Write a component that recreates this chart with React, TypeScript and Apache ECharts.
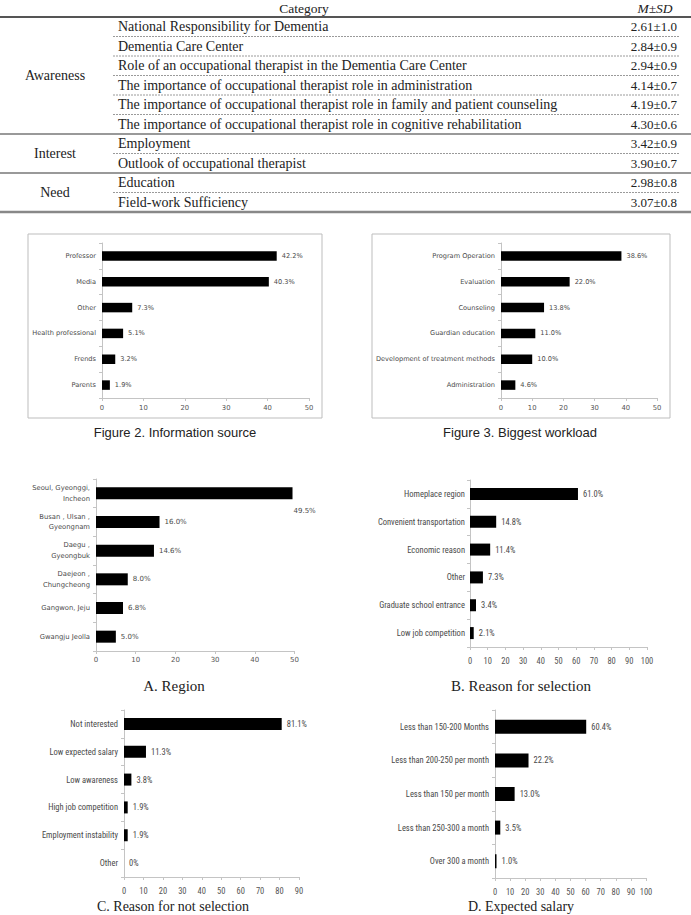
import React, { useEffect, useRef } from 'react';
import * as echarts from 'echarts';

// ---------- Table data ----------
const tableHeaderCategory = 'Category';
const tableHeaderValue = 'M±SD';
const tableGroups = ['Awareness', 'Interest', 'Need'];
const tableGroupSizes = [6, 2, 2];
const tableItems = [
  'National Responsibility for Dementia',
  'Dementia Care Center',
  'Role of an occupational therapist in the Dementia Care Center',
  'The importance of occupational therapist role in administration',
  'The importance of occupational therapist role in family and patient counseling',
  'The importance of occupational therapist role in cognitive rehabilitation',
  'Employment',
  'Outlook of occupational therapist',
  'Education',
  'Field-work Sufficiency',
];
const tableValues = [
  '2.61±1.0', '2.84±0.9', '2.94±0.9', '4.14±0.7', '4.19±0.7', '4.30±0.6',
  '3.42±0.9', '3.90±0.7', '2.98±0.8', '3.07±0.8',
];

// ---------- Chart data ----------
const fig2Categories = ['Professor', 'Media', 'Other', 'Health professional', 'Frends', 'Parents'];
const fig2Values = [42.2, 40.3, 7.3, 5.1, 3.2, 1.9];

const fig3Categories = ['Program Operation', 'Evaluation', 'Counseling', 'Guardian education', 'Development of treatment methods', 'Administration'];
const fig3Values = [38.6, 22.0, 13.8, 11.0, 10.0, 4.6];

const regionCategories = ['Seoul, Gyeonggi,\nIncheon', 'Busan , Ulsan ,\nGyeongnam', 'Daegu ,\nGyeongbuk', 'Daejeon ,\nChungcheong', 'Gangwon, Jeju', 'Gwangju Jeolla'];
const regionValues = [49.5, 16.0, 14.6, 8.0, 6.8, 5.0];

const selectionCategories = ['Homeplace region', 'Convenient transportation', 'Economic reason', 'Other', 'Graduate school entrance', 'Low job competition'];
const selectionValues = [61.0, 14.8, 11.4, 7.3, 3.4, 2.1];

const notSelectionCategories = ['Not interested', 'Low expected salary', 'Low awareness', 'High job competition', 'Employment instability', 'Other'];
const notSelectionValues = [81.1, 11.3, 3.8, 1.9, 1.9, 0];

const salaryCategories = ['Less than 150-200 Months', 'Less than 200-250 per month', 'Less than 150 per month', 'Less than 250-300 a month', 'Over 300 a month'];
const salaryValues = [60.4, 22.2, 13.0, 3.5, 1.0];

const axisMaxima = [50, 50, 50, 100, 90, 100];

const captions = [
  'Figure 2. Information source',
  'Figure 3. Biggest workload',
  'A. Region',
  'B. Reason for selection',
  'C. Reason for not selection',
  'D. Expected salary',
];

// ---------- Layout (positions / styles only) ----------
const SMALL_FONT = 'DejaVu Sans';
const NARROW_FONT = '"Liberation Sans Narrow", "Roboto Condensed", "Liberation Sans", sans-serif';
const SERIF = '"Liberation Serif", "DejaVu Serif", serif';

const panels = [
  { cats: fig2Categories, vals: fig2Values, left: 102, top: 243, width: 207, height: 155, barWidth: 9.5, font: SMALL_FONT, fs: 6.6, valFs: 6.6, axFs: 6.8, capX: 175, capY: 432, capFont: '"Liberation Sans", Arial, sans-serif', capFs: 13, lblMargin: 6, axMargin: 6, box: [28, 234, 294, 184] },
  { cats: fig3Categories, vals: fig3Values, left: 501, top: 243, width: 156, height: 155, barWidth: 9.5, font: SMALL_FONT, fs: 6.6, valFs: 6.6, axFs: 6.8, capX: 520, capY: 432, capFont: '"Liberation Sans", Arial, sans-serif', capFs: 13, lblMargin: 6, axMargin: 6, box: [372, 234, 298, 184] },
  { cats: regionCategories, vals: regionValues, left: 96, top: 479, width: 198.5, height: 172, barWidth: 12, font: SMALL_FONT, fs: 6.8, valFs: 7, axFs: 7, capX: 174, capY: 686, capFont: SERIF, capFs: 15, lblMargin: 6, axMargin: 5, firstOffset: [-4, 18] },
  { cats: selectionCategories, vals: selectionValues, left: 470, top: 480, width: 177, height: 167, barWidth: 12, font: NARROW_FONT, fs: 8.5, valFs: 8.5, axFs: 8.5, capX: 521, capY: 686, capFont: SERIF, capFs: 15, lblMargin: 5, axMargin: 9 },
  { cats: notSelectionCategories, vals: notSelectionValues, left: 124, top: 710, width: 175, height: 167, barWidth: 12, font: NARROW_FONT, fs: 8.5, valFs: 8.5, axFs: 8.5, capX: 173, capY: 906, capFont: SERIF, capFs: 14, lblMargin: 6, axMargin: 9 },
  { cats: salaryCategories, vals: salaryValues, left: 495, top: 710, width: 151, height: 168, barWidth: 14, font: NARROW_FONT, fs: 8.5, valFs: 8.5, axFs: 8.5, capX: 521, capY: 906, capFont: SERIF, capFs: 14, lblMargin: 6, axMargin: 9 },
];

const TABLE_TOP = 17;
const ROW_H = 19.5;

function buildTableGraphics(): any[] {
  const g: any[] = [];
  const txt = (x: number, y: number, text: string, align: string, extra: any = {}) => ({
    type: 'text', x, y, silent: true,
    style: { text, fill: '#222', fontFamily: SERIF, fontSize: 14, align, verticalAlign: 'middle', ...extra },
  });
  g.push(txt(304, 8, tableHeaderCategory, 'center', { fontSize: 13.5 }));
  g.push(txt(655, 8, tableHeaderValue, 'center', { fontStyle: 'italic', fontSize: 13.5 }));
  g.push({ type: 'line', shape: { x1: 0, y1: TABLE_TOP, x2: 691, y2: TABLE_TOP }, style: { stroke: '#555', lineWidth: 2 } });
  const total = tableItems.length;
  for (let k = 1; k < total; k++) {
    const y = TABLE_TOP + ROW_H * k;
    let boundary = false;
    let acc = 0;
    for (const s of tableGroupSizes) { acc += s; if (acc === k) boundary = true; }
    if (boundary) {
      g.push({ type: 'line', shape: { x1: 0, y1: y, x2: 691, y2: y }, style: { stroke: '#777', lineWidth: 1.5 } });
    } else {
      g.push({ type: 'line', shape: { x1: 113, y1: y, x2: 680, y2: y }, style: { stroke: '#9a9a9a', lineWidth: 1, lineDash: [2, 1] } });
    }
  }
  const bottom = TABLE_TOP + ROW_H * total;
  g.push({ type: 'line', shape: { x1: 0, y1: bottom, x2: 691, y2: bottom }, style: { stroke: '#888', lineWidth: 2.5 } });
  tableItems.forEach((item, k) => {
    const y = TABLE_TOP + ROW_H * (k + 0.5);
    g.push(txt(118, y, item, 'left'));
    g.push(txt(677, y, tableValues[k], 'right', { fontSize: 13 }));
  });
  let start = 0;
  tableGroups.forEach((grp, i) => {
    const n = tableGroupSizes[i];
    const y = TABLE_TOP + ROW_H * (start + n / 2);
    g.push(txt(55, y, grp, 'center'));
    start += n;
  });
  return g;
}

export default function App() {
  const ref = useRef<HTMLDivElement>(null);
  useEffect(() => {
    if (!ref.current) return;
    const chart = echarts.init(ref.current, undefined, { renderer: 'svg' });
    const axisColor = '#c4c4c4';
    const grid: any[] = [];
    const xAxis: any[] = [];
    const yAxis: any[] = [];
    const series: any[] = [];
    const graphic: any[] = buildTableGraphics();

    panels.forEach((p, i) => {
      grid.push({ left: p.left, top: p.top, width: p.width, height: p.height, containLabel: false });
      xAxis.push({
        type: 'value', gridIndex: i, min: 0, max: axisMaxima[i], interval: 10,
        splitLine: { show: false },
        axisLine: { show: true, lineStyle: { color: axisColor } },
        axisTick: { show: true, length: 3, lineStyle: { color: axisColor } },
        axisLabel: { fontSize: p.axFs, color: '#555', fontFamily: p.font, margin: p.axMargin },
      });
      yAxis.push({
        type: 'category', gridIndex: i, inverse: true, data: p.cats,
        axisLine: { show: true, lineStyle: { color: axisColor } },
        axisTick: { show: true, length: 3, lineStyle: { color: axisColor } },
        axisLabel: { fontSize: p.fs, color: '#4a4a4a', fontFamily: p.font, margin: p.lblMargin, lineHeight: p.fs * 1.6, align: 'right' },
      });
      series.push({
        type: 'bar', xAxisIndex: i, yAxisIndex: i, barWidth: p.barWidth,
        itemStyle: { color: '#000' },
        label: {
          show: true, position: 'right', distance: 5,
          fontSize: p.valFs, color: '#4a4a4a', fontFamily: p.font,
          formatter: (q: any) => (q.value === 0 ? '0%' : Number(q.value).toFixed(1) + '%'),
        },
        data: p.vals.map((v, j) => (j === 0 && (p as any).firstOffset ? { value: v, label: { offset: (p as any).firstOffset } } : v)),
      });
      if ((p as any).box) {
        const b = (p as any).box;
        graphic.push({ type: 'rect', z: -10, silent: true, shape: { x: b[0], y: b[1], width: b[2], height: b[3] }, style: { fill: 'none', stroke: '#bdbdbd', lineWidth: 1 } });
      }
      graphic.push({
        type: 'text', x: p.capX, y: p.capY, silent: true,
        style: { text: captions[i], fill: '#222', fontFamily: p.capFont, fontSize: p.capFs, align: 'center', verticalAlign: 'middle' },
      });
    });

    chart.setOption({
      animation: false,
      backgroundColor: '#fff',
      grid, xAxis, yAxis, series, graphic,
    });
    return () => chart.dispose();
  }, []);
  return <div ref={ref} style={{ position: 'absolute', left: 0, top: 0, width: 691, height: 915 }} />;
}
